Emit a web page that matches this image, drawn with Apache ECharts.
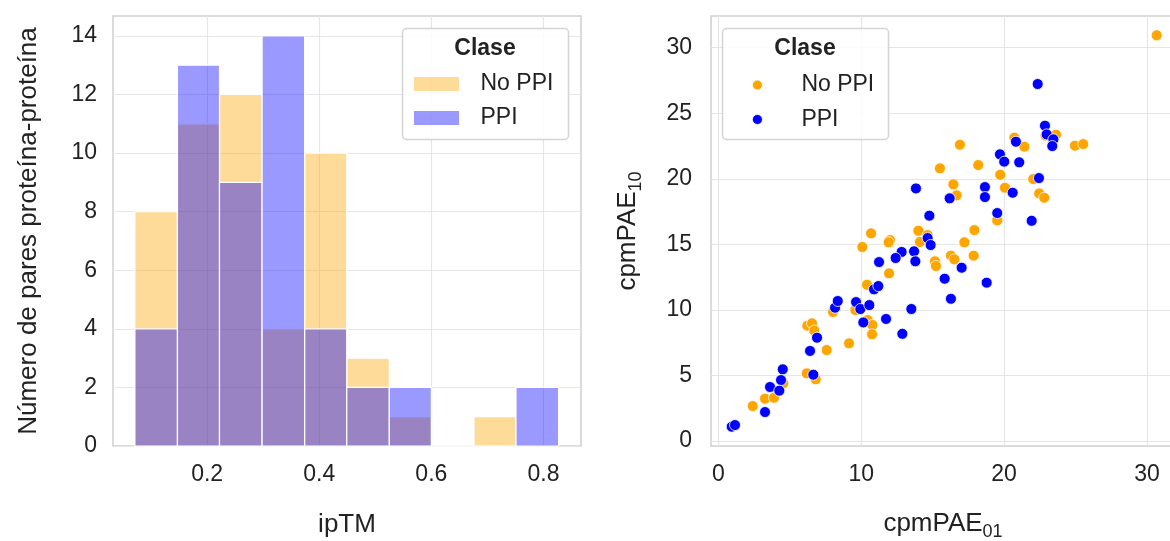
<!DOCTYPE html>
<html><head><meta charset="utf-8">
<script src="https://cdn.jsdelivr.net/npm/echarts@6/dist/echarts.min.js"></script>
<style>html,body{margin:0;padding:0;background:#fff}#chart{width:1170px;height:541px}</style>
</head><body><div id="chart"></div>
<script>
// ---- data ----
const binEdges = [0.071, 0.147, 0.222, 0.298, 0.374, 0.449, 0.525, 0.600, 0.676, 0.751, 0.827];
const histNoPPI = [8, 11, 12, 4, 10, 3, 1, 0, 1, 0];
const histPPI   = [4, 13, 9, 14, 4, 2, 2, 0, 0, 2];
const xTicksHist = [0.2, 0.4, 0.6, 0.8];
const yTicksHist = [0, 2, 4, 6, 8, 10, 12, 14];
const xTicksScatter = [0, 10, 20, 30];
const yTicksScatter = [0, 5, 10, 15, 20, 25, 30];
const classNames = ['No PPI', 'PPI'];

const noPpiX = [30.68, 23.63, 20.72, 21.42, 24.96, 25.54, 16.91, 18.19, 15.51, 19.73, 22.04, 16.45, 20.06, 16.68, 22.46, 22.81, 19.52,
  10.69, 10.08, 12.02, 11.92, 14.00, 14.65, 14.11, 17.92, 17.22, 11.95, 15.16, 15.23, 16.28, 16.52, 17.87, 10.41,
  8.03, 9.59, 10.45, 10.78, 10.76, 9.15, 7.59, 6.23, 6.56, 6.72, 6.19, 6.82, 4.55, 3.27, 3.90, 2.41, 22.90];
const noPpiY = [30.95, 23.37, 23.14, 22.45, 22.53, 22.65, 22.60, 21.05, 20.80, 20.31, 19.98, 19.58, 19.32, 18.74, 18.89, 18.56, 16.83,
  15.84, 14.80, 15.33, 15.16, 16.04, 15.71, 15.18, 16.09, 15.16, 12.79, 13.71, 13.35, 14.14, 13.86, 14.14, 11.92,
  9.84, 9.99, 9.23, 8.85, 8.14, 7.45, 6.94, 8.80, 8.98, 8.42, 5.16, 4.71, 4.40, 3.23, 3.30, 2.67, 23.30];
const ppiX = [22.35, 22.86, 22.98, 23.45, 23.37, 20.83, 19.71, 20.01, 21.06, 22.44, 13.83, 18.66, 16.19, 18.66, 20.60, 14.77, 19.52, 21.93,
  14.65, 14.86, 12.83, 12.41, 13.70, 13.79, 11.25, 17.03, 15.84, 18.78, 16.28, 10.90, 11.20, 13.51, 11.74, 12.88,
  8.17, 8.36, 9.64, 9.94, 10.57, 10.15, 6.91, 6.42, 6.65, 4.51, 4.39, 3.62, 4.27, 3.27, 0.94, 1.17];
const ppiY = [27.23, 24.05, 23.39, 23.01, 22.50, 22.83, 21.87, 21.31, 21.26, 20.06, 19.27, 19.37, 18.51, 18.61, 18.94, 17.19, 17.39, 16.80,
  15.48, 14.95, 14.42, 13.96, 14.47, 13.71, 13.65, 13.22, 12.38, 12.08, 10.85, 11.57, 11.82, 10.07, 9.31, 8.18,
  10.17, 10.68, 10.60, 10.07, 10.37, 9.05, 7.88, 6.87, 5.06, 5.47, 4.65, 4.12, 3.84, 2.21, 1.09, 1.22];

// ---- styling ----
const FONT = 'Liberation Sans, Arial, sans-serif';
const TXT = '#222';
const ORANGE = '#FFA500', BLUE = '#0000FF';
const ORANGE_A = 'rgba(255,165,0,0.4)', BLUE_A = 'rgba(0,0,255,0.4)';
const GRIDC = '#e6e6e6', SPINE = '#cfcfcf';

function histData(counts) {
  return counts.map((c, i) => [binEdges[i], binEdges[i + 1], c]);
}
function zip(xs, ys) { return xs.map((x, i) => [x, ys[i]]); }

function makeRender(fill) {
  return function (params, api) {
    const p0 = api.coord([api.value(0), api.value(2)]);
    const p1 = api.coord([api.value(1), 0]);
    return {
      type: 'rect',
      shape: { x: p0[0], y: p0[1], width: p1[0] - p0[0], height: p1[1] - p0[1] },
      style: { fill: fill, stroke: '#fff', lineWidth: 1.2 }
    };
  };
}

function axis(ticks, fmt, extra) {
  return Object.assign({
    type: 'value',
    axisLine: { show: false },
    axisTick: { show: false, customValues: ticks },
    axisLabel: { customValues: ticks, fontSize: 23, color: TXT, fontFamily: FONT, formatter: fmt },
    splitLine: { show: true, lineStyle: { color: GRIDC, width: 1.2 } },
    nameTextStyle: { fontSize: 26, color: TXT, fontFamily: FONT }
  }, extra);
}

const subRich = {
  a: { fontSize: 26, color: TXT, fontFamily: FONT, lineHeight: 34 },
  s: { fontSize: 18, color: TXT, fontFamily: FONT, verticalAlign: 'bottom', padding: [0, 0, 0, 0] }
};

const chart = echarts.init(document.getElementById('chart'), null, { renderer: 'canvas' });
chart.setOption({
  animation: false,
  backgroundColor: '#fff',
  textStyle: { fontFamily: FONT },
  grid: [
    { left: 113, top: 16, width: 468, height: 430, outerBoundsMode: 'none', containLabel: false,
      show: true, borderColor: SPINE, borderWidth: 1.5, backgroundColor: 'transparent' },
    { left: 711, top: 16, right: -5, height: 430, outerBoundsMode: 'none', containLabel: false,
      show: true, borderColor: SPINE, borderWidth: 1.5, backgroundColor: 'transparent' }
  ],
  xAxis: [
    axis(xTicksHist, v => v.toFixed(1), { gridIndex: 0, min: 0.032, max: 0.867, name: 'ipTM', nameLocation: 'middle', nameGap: 66,
      axisLabel: { customValues: xTicksHist, fontSize: 23, color: TXT, fontFamily: FONT, margin: 17, formatter: v => v.toFixed(1) } }),
    axis(xTicksScatter, v => String(v), { gridIndex: 1, min: -0.51, max: 31.96, name: '{a|cpmPAE}{s|01}', nameLocation: 'middle', nameGap: 61,
      axisLabel: { customValues: xTicksScatter, fontSize: 23, color: TXT, fontFamily: FONT, margin: 17, formatter: v => String(v) },
      nameTextStyle: { rich: subRich } })
  ],
  yAxis: [
    axis(yTicksHist, v => String(v), { gridIndex: 0, min: 0, max: 14.68, name: 'Número de pares proteína-proteína', nameLocation: 'middle', nameGap: 71,
      axisLabel: { customValues: yTicksHist, fontSize: 23, color: TXT, fontFamily: FONT, margin: 16, formatter: v => String(v) } }),
    axis(yTicksScatter, v => String(v), { gridIndex: 1, min: -0.38, max: 32.42, name: '{a|cpmPAE}{s|10}', nameLocation: 'middle', nameGap: 66,
      axisLabel: { customValues: yTicksScatter, fontSize: 23, color: TXT, fontFamily: FONT, margin: 19, formatter: v => String(v) },
      nameTextStyle: { rich: subRich } })
  ],
  legend: [
    { left: 413, top: 72, padding: 0, orient: 'vertical', selectedMode: false, itemWidth: 46, itemHeight: 15, itemGap: 10, z: 20,
      textStyle: { fontSize: 23, color: TXT, fontFamily: FONT, lineHeight: 24, padding: [0, 0, 0, 16] },
      data: [
        { name: classNames[0], icon: 'rect', itemStyle: { color: ORANGE_A, borderColor: '#fff', borderWidth: 1 } },
        { name: classNames[1], icon: 'rect', itemStyle: { color: BLUE_A, borderColor: '#fff', borderWidth: 1 } }
      ] },
    { left: 752, top: 73, padding: 0, orient: 'vertical', selectedMode: false, itemWidth: 10, itemHeight: 10, itemGap: 10.5, z: 20,
      textStyle: { fontSize: 23, color: TXT, fontFamily: FONT, lineHeight: 24, padding: [0, 0, 0, 34] },
      data: [
        { name: classNames[0], icon: 'circle', itemStyle: { color: ORANGE, borderColor: '#fff', borderWidth: 0.8 } },
        { name: classNames[1], icon: 'circle', itemStyle: { color: BLUE, borderColor: '#fff', borderWidth: 0.8 } }
      ] }
  ],
  graphic: [
    { type: 'rect', z: 15, shape: { x: 402.5, y: 28.5, width: 166, height: 111, r: 4 },
      style: { fill: 'rgba(255,255,255,0.85)', stroke: '#d4d4d4', lineWidth: 1.5 } },
    { type: 'text', z: 16, style: { text: 'Clase', x: 485, y: 49, textAlign: 'center', textVerticalAlign: 'middle', align: 'center', verticalAlign: 'middle',
      fontSize: 23, fontWeight: 'bold', fontFamily: FONT, fill: TXT } },
    { type: 'rect', z: 15, shape: { x: 722.5, y: 28.5, width: 166, height: 111, r: 4 },
      style: { fill: 'rgba(255,255,255,0.85)', stroke: '#d4d4d4', lineWidth: 1.5 } },
    { type: 'text', z: 16, style: { text: 'Clase', x: 805, y: 49, textAlign: 'center', textVerticalAlign: 'middle', align: 'center', verticalAlign: 'middle',
      fontSize: 23, fontWeight: 'bold', fontFamily: FONT, fill: TXT } }
  ],
  series: [
    { name: classNames[0], type: 'custom', xAxisIndex: 0, yAxisIndex: 0, renderItem: makeRender(ORANGE_A),
      encode: { x: [0, 1], y: 2 }, data: histData(histNoPPI), itemStyle: { color: ORANGE_A } },
    { name: classNames[1], type: 'custom', xAxisIndex: 0, yAxisIndex: 0, renderItem: makeRender(BLUE_A),
      encode: { x: [0, 1], y: 2 }, data: histData(histPPI), itemStyle: { color: BLUE_A } },
    { name: classNames[0], type: 'scatter', xAxisIndex: 1, yAxisIndex: 1, symbolSize: 11,
      itemStyle: { color: ORANGE, borderColor: '#fff', borderWidth: 0.8, opacity: 1 }, data: zip(noPpiX, noPpiY) },
    { name: classNames[1], type: 'scatter', xAxisIndex: 1, yAxisIndex: 1, symbolSize: 11,
      itemStyle: { color: BLUE, borderColor: '#fff', borderWidth: 0.8, opacity: 1 }, data: zip(ppiX, ppiY) }
  ]
});
</script>
</body></html>
